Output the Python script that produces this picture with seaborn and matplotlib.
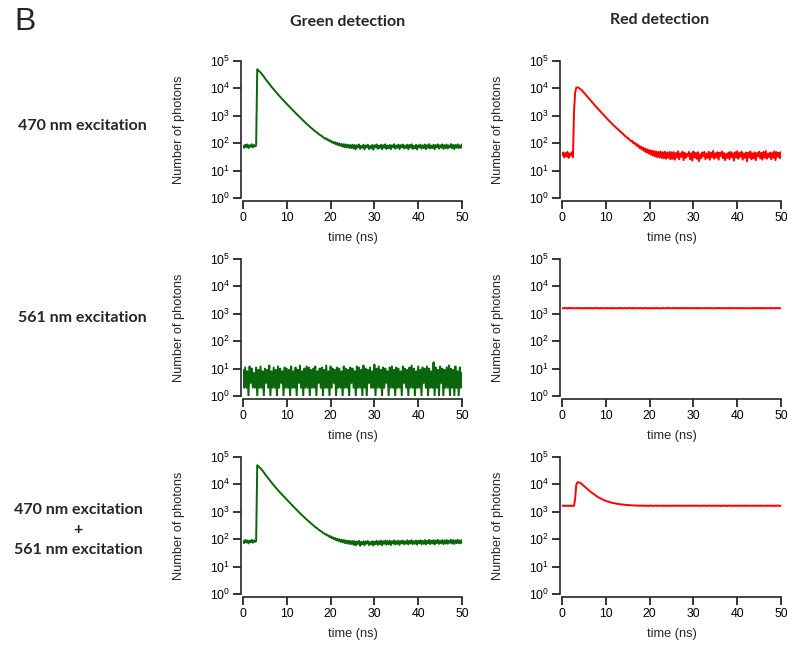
import numpy as np
import matplotlib
matplotlib.use("Agg")
import matplotlib.pyplot as plt
from matplotlib.ticker import NullLocator, FixedLocator
import seaborn as sns

# ---------------- data ----------------
time_ns = np.arange(0, 50.001, 0.25)  # 201 bins of 0.25 ns

green_470 = [80, 68, 88, 72, 90, 66, 84, 74, 92, 70, 86, 76,
             82,
             50000, 45000, 41500, 38500, 34500, 30500, 27000, 23500, 21000, 18500,
             16400, 14500, 12900, 11500, 10300, 9200, 8250, 7400, 6650, 6000,
             5400, 4900, 4420, 4000, 3620, 3300, 2980, 2700, 2460, 2250,
             2030, 1850, 1680, 1530, 1390, 1270, 1150, 1050, 960, 880,
             800, 730, 670, 615, 560, 515, 470, 440, 400, 370,
             340, 320, 290, 270, 250, 240, 215, 205, 190, 185,
             165, 160, 145, 150, 132, 135, 118, 125, 106, 115,
             98, 108, 90, 102, 84, 98, 80, 94, 74, 92,
             72, 90, 70, 88, 68, 86, 66, 88,
             64, 86, 60, 84, 70, 90, 62, 80, 68, 88,
             59, 83, 72, 89, 61, 79, 66, 86, 58, 84,
             71, 90, 63, 82, 67, 88, 60, 85, 69, 91,
             62, 81, 66, 87, 60, 84, 70, 92, 63, 83,
             68, 89, 61, 85, 71, 90, 64, 82, 67, 88,
             60, 86, 69, 91, 62, 80, 65, 87, 59, 84,
             70, 89, 63, 83, 66, 90, 61, 85, 68, 92,
             64, 82, 67, 88, 60, 86, 71, 91, 63, 84,
             69, 90, 62, 85, 66, 89, 64, 83, 70, 93,
             65, 87, 61, 86, 69, 91, 66, 84, 68, 90]

red_470 = [36, 46, 30, 44, 33, 48, 29, 42, 35, 47, 31,
           1500, 7000, 10500,
           11000, 10600, 10000, 9300, 8600, 7800, 7000, 6300, 5700, 5150,
           4600, 4150, 3700, 3330, 3000, 2700, 2400, 2170, 1950, 1770,
           1600, 1440, 1300, 1170, 1060, 960, 870, 790, 720, 655,
           600, 545, 500, 455, 420, 380, 350, 320, 300, 270,
           250, 228, 215, 190, 180, 160, 160, 138, 135, 118,
           122, 102, 106, 88, 95, 76, 84, 66, 76, 58,
           70, 52, 64, 46, 60, 42, 56, 38, 54, 35,
           52, 33, 50, 31, 48, 30, 50, 29, 47, 28,
           49, 27, 46, 29, 48, 26, 47,
           27, 47, 25, 44, 30, 51, 26, 42, 32, 49,
           24, 45, 29, 41, 34, 48, 26, 43, 23, 50,
           30, 44, 27, 47, 22, 40, 28, 46, 33, 48,
           26, 42, 29, 49, 25, 45, 31, 52, 27, 43,
           30, 47, 25, 45, 34, 50, 28, 44, 24, 41,
           29, 46, 26, 48, 31, 43, 23, 47, 30, 51,
           27, 44, 32, 49, 25, 42, 29, 46, 22, 45,
           31, 50, 26, 43, 28, 47, 24, 44, 33, 49,
           28, 45, 25, 48, 30, 52, 27, 42, 31, 46,
           26, 44, 29, 50, 24, 47, 32, 45, 28, 48]

green_561 = [9, 2, 11, 2, 8, 1, 12, 3, 10, 2,
             7, 2, 11, 1, 9, 2, 12, 2, 8, 1,
             10, 3, 9, 2, 13, 1, 8, 2, 11, 2,
             9, 1, 12, 2, 10, 3, 8, 1, 11, 2,
             10, 2, 9, 1, 12, 2, 8, 2, 11, 1,
             9, 3, 13, 2, 8, 1, 10, 2, 12, 2,
             11, 1, 9, 2, 10, 2, 12, 1, 8, 3,
             10, 2, 11, 1, 9, 2, 13, 2, 8, 1,
             12, 2, 10, 3, 9, 1, 11, 2, 10, 2,
             8, 1, 12, 2, 10, 2, 9, 1, 11, 3,
             10, 2, 8, 1, 12, 2, 11, 2, 9, 1,
             13, 2, 10, 1, 9, 3, 11, 2, 8, 2,
             14, 1, 10, 2, 12, 2, 9, 1, 11, 2,
             10, 3, 8, 1, 11, 2, 12, 2, 9, 1,
             11, 2, 10, 2, 8, 1, 12, 3, 10, 2,
             9, 1, 11, 2, 13, 2, 10, 1, 8, 2,
             12, 2, 9, 1, 11, 3, 10, 2, 12, 1,
             10, 2, 8, 2, 17, 1, 11, 2, 9, 1,
             12, 3, 10, 1, 9, 2, 11, 2, 13, 1,
             10, 2, 9, 1, 12, 2, 8, 1, 11, 2,
             7]

red_561 = [1600, 1570, 1640, 1580, 1630, 1560, 1650, 1590, 1620, 1570,
           1640, 1580, 1610, 1560, 1650, 1590, 1630, 1570, 1620, 1600,
           1560, 1640, 1590, 1620, 1570, 1650, 1580, 1610, 1560, 1630,
           1590, 1640, 1570, 1620, 1600, 1560, 1650, 1580, 1610, 1570,
           1630, 1590, 1640, 1560, 1620, 1580, 1650, 1570, 1610, 1600,
           1560, 1630, 1590, 1640, 1570, 1620, 1580, 1650, 1600, 1560,
           1610, 1640, 1570, 1620, 1590, 1650, 1560, 1630, 1580, 1610,
           1570, 1640, 1600, 1560, 1620, 1590, 1650, 1580, 1610, 1570,
           1630, 1560, 1640, 1590, 1620, 1570, 1650, 1600, 1580, 1620,
           1560, 1640, 1590, 1610, 1570, 1630, 1600, 1650, 1580, 1610,
           1590, 1630, 1570, 1650, 1600, 1560, 1640, 1580, 1620, 1570,
           1650, 1590, 1620, 1560, 1640, 1580, 1610, 1570, 1630, 1600,
           1570, 1650, 1580, 1630, 1560, 1640, 1590, 1620, 1570, 1610,
           1600, 1630, 1560, 1650, 1590, 1570, 1640, 1580, 1620, 1560,
           1620, 1580, 1650, 1570, 1630, 1590, 1640, 1560, 1600, 1610,
           1570, 1620, 1580, 1650, 1560, 1630, 1590, 1640, 1610, 1570,
           1600, 1650, 1560, 1630, 1580, 1640, 1570, 1620, 1590, 1600,
           1580, 1630, 1610, 1570, 1640, 1560, 1620, 1590, 1650, 1580,
           1620, 1570, 1650, 1580, 1630, 1560, 1640, 1610, 1570, 1630,
           1570, 1650, 1580, 1620, 1560, 1640, 1610, 1630, 1590, 1600,
           1610]

green_both = [86, 72, 94, 76, 90, 70, 88, 78, 95, 74, 90, 80,
              85,
              50000, 45500, 42000, 39000, 35000, 31000, 27500, 24000, 21300, 18800,
              16700, 14800, 13200, 11700, 10500, 9400, 8400, 7500, 6750, 6100,
              5500, 5000, 4520, 4100, 3700, 3350, 3030, 2750, 2500, 2280,
              2060, 1880, 1710, 1560, 1420, 1290, 1170, 1070, 980, 900,
              820, 750, 685, 630, 575, 530, 485, 450, 410, 380,
              350, 330, 300, 280, 258, 245, 222, 212, 195, 190,
              170, 165, 150, 152, 136, 138, 120, 128, 108, 118,
              100, 110, 92, 104, 86, 100, 80, 96, 76, 94,
              72, 90, 70, 89, 67, 87, 66, 86,
              62, 85, 59, 82, 67, 88, 57, 80, 65, 84,
              60, 83, 69, 86, 61, 79, 64, 84, 58, 82,
              66, 87, 62, 84, 65, 89, 60, 85, 68, 90,
              63, 86, 66, 88, 61, 84, 69, 91, 64, 85,
              67, 89, 62, 86, 70, 90, 65, 84, 68, 91,
              64, 87, 70, 92, 66, 85, 68, 90, 63, 88,
              71, 91, 65, 87, 68, 93, 64, 88, 70, 94,
              66, 89, 70, 92, 64, 90, 72, 95, 67, 88,
              71, 93, 66, 90, 69, 94, 68, 89, 73, 96,
              69, 92, 67, 91, 72, 95, 70, 90, 71, 94]

red_both = [1640, 1700, 1610, 1690, 1630, 1680, 1620, 1700, 1640, 1670, 1630,
            1680,
            3000, 9500, 11800, 12000, 11600, 11000, 10300, 9500, 8700, 8000,
            7400, 6800, 6300, 5800, 5400, 5050, 4700, 4380, 4100, 3840,
            3600, 3410, 3250, 3090, 2950, 2820, 2700, 2590, 2500, 2420,
            2350, 2290, 2230, 2170, 2120, 2080, 2040, 2000, 1970, 1940,
            1910, 1885, 1860, 1840, 1820, 1800, 1790, 1770, 1760, 1750,
            1740, 1725, 1720, 1700, 1710, 1690, 1700, 1670, 1690, 1660,
            1700,
            1650, 1690, 1630, 1700, 1640, 1680, 1620, 1710, 1650, 1690,
            1630, 1680, 1660, 1700, 1620, 1690, 1640, 1680, 1650, 1710,
            1620, 1690, 1640, 1700, 1630, 1670, 1650, 1690, 1620, 1700,
            1660, 1680, 1630, 1710, 1640, 1690, 1620, 1680, 1650, 1700,
            1630, 1690, 1660, 1700, 1620, 1680, 1640, 1710, 1630, 1690,
            1650, 1700, 1620, 1680, 1640, 1690, 1660, 1700, 1630, 1680,
            1620, 1710, 1650, 1690, 1630, 1700, 1640, 1680, 1660, 1690,
            1630, 1700, 1620, 1690, 1650, 1680, 1640, 1710, 1620, 1700,
            1660, 1690, 1630, 1680, 1640, 1700, 1620, 1690, 1650, 1680,
            1640, 1710, 1630, 1690, 1660, 1700, 1620, 1680, 1650, 1690,
            1630, 1700, 1640, 1680, 1620, 1710, 1650, 1690, 1630, 1700,
            1660, 1680, 1640, 1690, 1620, 1700, 1650, 1680, 1630, 1690,
            1640, 1700, 1620, 1690, 1660, 1680, 1630, 1700]

col_titles = ["Green detection", "Red detection"]
row_titles = ["470 nm excitation", "561 nm excitation",
              "470 nm excitation\n+\n561 nm excitation"]
x_ticks = [0, 10, 20, 30, 40, 50]
y_ticks = [1, 10, 100, 1000, 10000, 100000]
x_label = "time (ns)"
y_label = "Number of photons"

for name, arr in [("green_470", green_470), ("red_470", red_470),
                  ("green_561", green_561), ("red_561", red_561),
                  ("green_both", green_both), ("red_both", red_both)]:
    assert len(arr) == len(time_ns), f"{name}: {len(arr)}"

# ---------------- styling ----------------
sns.set_style("ticks")
plt.rcParams["font.family"] = ["Liberation Sans", "DejaVu Sans"]
plt.rcParams["mathtext.fontset"] = "custom"
plt.rcParams["mathtext.rm"] = "Liberation Sans"
plt.rcParams["mathtext.it"] = "Liberation Sans:italic"

GREEN = "#0a660a"
RED = "#ff0000"

W, H = 787, 646
fig = plt.figure(figsize=(W / 100, H / 100), dpi=100)

col_left = [243, 562]
ax_w = 219
row_top = [61, 259, 457]
ax_h = 137

panels = [
    (0, 0, green_470, GREEN), (0, 1, red_470, RED),
    (1, 0, green_561, GREEN), (1, 1, red_561, RED),
    (2, 0, green_both, GREEN), (2, 1, red_both, RED),
]

for r, c, vals, colr in panels:
    left = col_left[c] / W
    bottom = 1 - (row_top[r] + ax_h) / H
    ax = fig.add_axes([left, bottom, ax_w / W, ax_h / H])
    sns.lineplot(x=time_ns, y=vals, ax=ax, color=colr, linewidth=1.4)
    ax.set_yscale("log")
    ax.set_ylim(1, 1e5)
    ax.set_xlim(0, 50)
    ax.yaxis.set_major_locator(FixedLocator(y_ticks))
    ax.yaxis.set_minor_locator(NullLocator())
    ax.set_xticks(x_ticks)
    ax.tick_params(axis="both", labelsize=8.8, length=5.5, width=1.1,
                   direction="out", colors="black", pad=2)
    for side in ["top", "right"]:
        ax.spines[side].set_visible(False)
    ax.spines["left"].set_linewidth(1.2)
    ax.spines["bottom"].set_linewidth(1.2)
    ax.spines["bottom"].set_position(("outward", 2.5))
    ax.spines["left"].set_position(("outward", 1.5))
    ax.spines["left"].set_bounds(1, 1e5)
    ax.spines["bottom"].set_bounds(0, 50)
    ax.set_xlabel(x_label, fontsize=9.2)
    ax.set_ylabel(y_label, fontsize=9.2)
    ax.yaxis.set_label_coords(-0.265, 0.5)
    ax.xaxis.set_label_coords(0.5, -0.25)
    ax.patch.set_alpha(0)

title_font = ["Lato", "DejaVu Sans"]
fig.text(348 / W, 1 - 22 / H, col_titles[0], ha="center", va="center",
         fontsize=11.5, fontweight="bold", family=title_font)
fig.text(660 / W, 1 - 20 / H, col_titles[1], ha="center", va="center",
         fontsize=11.5, fontweight="bold", family=title_font)

row_y = [126, 318, 530]
row_x = [82, 82, 78]
for i, txt in enumerate(row_titles):
    fig.text(row_x[i] / W, 1 - row_y[i] / H, txt, ha="center", va="center",
             fontsize=11.5, fontweight="bold", family=title_font,
             linespacing=1.55)

fig.text(14 / W, 1 - 22 / H, "B", ha="left", va="center", fontsize=23,
         family=["Liberation Sans", "DejaVu Sans"])

fig.savefig("out.png", dpi=100)
